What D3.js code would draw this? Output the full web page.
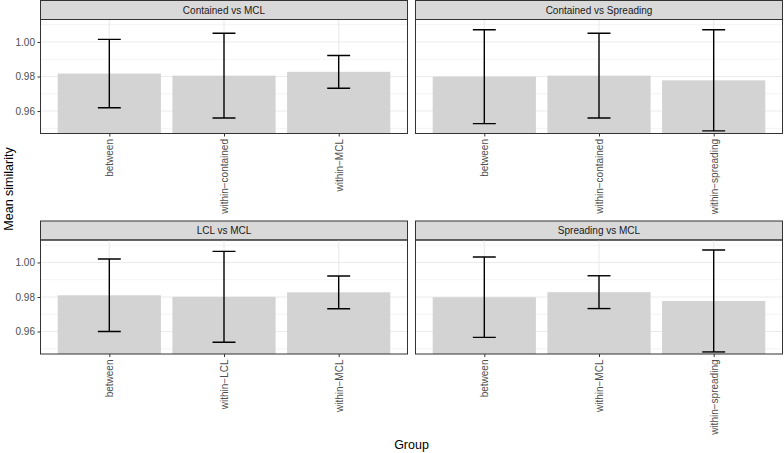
<!DOCTYPE html>
<html>
<head>
<meta charset="utf-8">
<script src="https://cdn.jsdelivr.net/npm/d3@7"></script>
<style>
  html, body { margin: 0; padding: 0; background: #fff; }
  svg { display: block; font-family: "Liberation Sans", Arial, Helvetica, sans-serif; }
</style>
</head>
<body>
<svg id="chart" width="784" height="453"></svg>
<script>
// ---- data ----
const panelTitles = ["Contained vs MCL", "Contained vs Spreading", "LCL vs MCL", "Spreading vs MCL"];
const groupsCvM = ["between", "within\u2212contained", "within\u2212MCL"];
const groupsCvS = ["between", "within\u2212contained", "within\u2212spreading"];
const groupsLvM = ["between", "within\u2212LCL", "within\u2212MCL"];
const groupsSvM = ["between", "within\u2212MCL", "within\u2212spreading"];
const meanCvM = [0.9817, 0.9805, 0.9827];
const meanCvS = [0.9799, 0.9805, 0.9778];
const meanLvM = [0.9810, 0.9801, 0.9827];
const meanSvM = [0.9799, 0.9828, 0.9777];
const sdCvM = [0.0198, 0.0245, 0.0095];
const sdCvS = [0.0272, 0.0245, 0.0293];
const sdLvM = [0.0210, 0.0263, 0.0095];
const sdSvM = [0.0233, 0.0095, 0.0295];
const yTicks = [0.96, 0.98, 1.00];
const yMinorTicks = [0.95, 0.97, 0.99, 1.01];
const yDomain = [0.947, 1.013];
const yTitle = "Mean similarity";
const xTitle = "Group";

const panelData = [
  {title: panelTitles[0], groups: groupsCvM, mean: meanCvM, sd: sdCvM},
  {title: panelTitles[1], groups: groupsCvS, mean: meanCvS, sd: sdCvS},
  {title: panelTitles[2], groups: groupsLvM, mean: meanLvM, sd: sdLvM},
  {title: panelTitles[3], groups: groupsSvM, mean: meanSvM, sd: sdSvM}
];

// ---- layout ----
const svg = d3.select("#chart");
const colX = [40.5, 415.5];
const panelW = 367;
const stripTop = [0.5, 221];
const stripH = 19;
const panelH = 114;

const axisText = "#4d4d4d";
const fontAxis = 10;

panelData.forEach((p, i) => {
  const col = i % 2, row = Math.floor(i / 2);
  const x0 = colX[col];
  const sTop = stripTop[row];
  const pTop = sTop + stripH;
  const pBot = pTop + panelH;

  // ggplot-like discrete scale: centers at 1..3 with 0.6 expansion, bar width 0.9
  const xc = d3.scalePoint().domain(p.groups).range([x0 + panelW * 0.6 / 3.2, x0 + panelW * 2.6 / 3.2]);
  const unit = panelW / 3.2;
  const y = d3.scaleLinear().domain(yDomain).range([pBot, pTop]);

  const g = svg.append("g");
  const clipId = "clip" + i;
  g.append("clipPath").attr("id", clipId).append("rect")
    .attr("x", x0).attr("y", pTop).attr("width", panelW).attr("height", panelH);

  // strip
  g.append("rect").attr("x", x0).attr("y", sTop).attr("width", panelW).attr("height", stripH)
    .attr("fill", "#d9d9d9").attr("stroke", "#333333").attr("stroke-width", 1);
  g.append("text").attr("x", x0 + panelW / 2).attr("y", sTop + stripH / 2).attr("dy", "0.35em")
    .attr("text-anchor", "middle").attr("font-size", fontAxis).attr("fill", "#1a1a1a").text(p.title);

  const inner = g.append("g").attr("clip-path", `url(#${clipId})`);
  // grid
  inner.selectAll(".minor").data(yMinorTicks).join("line")
    .attr("x1", x0).attr("x2", x0 + panelW).attr("y1", d => y(d)).attr("y2", d => y(d))
    .attr("stroke", "#ebebeb").attr("stroke-width", 0.6);
  inner.selectAll(".major").data(yTicks).join("line")
    .attr("x1", x0).attr("x2", x0 + panelW).attr("y1", d => y(d)).attr("y2", d => y(d))
    .attr("stroke", "#ebebeb").attr("stroke-width", 1.1);
  inner.selectAll(".vmajor").data(p.groups).join("line")
    .attr("x1", d => xc(d)).attr("x2", d => xc(d)).attr("y1", pTop).attr("y2", pBot)
    .attr("stroke", "#ebebeb").attr("stroke-width", 1.1);

  // bars
  inner.selectAll(".bar").data(p.groups).join("rect")
    .attr("x", d => xc(d) - unit * 0.45).attr("width", unit * 0.9)
    .attr("y", (d, k) => y(p.mean[k])).attr("height", (d, k) => y(yDomain[0]) - y(p.mean[k]) + 2)
    .attr("fill", "#d3d3d3");

  // error bars
  const eb = inner.selectAll(".eb").data(p.groups).join("g");
  const cw = unit * 0.1;
  eb.append("line").attr("x1", d => xc(d)).attr("x2", d => xc(d))
    .attr("y1", (d, k) => y(p.mean[k] + p.sd[k])).attr("y2", (d, k) => y(p.mean[k] - p.sd[k]))
    .attr("stroke", "#000").attr("stroke-width", 1.4);
  eb.append("line").attr("x1", d => xc(d) - cw).attr("x2", d => xc(d) + cw)
    .attr("y1", (d, k) => y(p.mean[k] + p.sd[k])).attr("y2", (d, k) => y(p.mean[k] + p.sd[k]))
    .attr("stroke", "#000").attr("stroke-width", 1.4);
  eb.append("line").attr("x1", d => xc(d) - cw).attr("x2", d => xc(d) + cw)
    .attr("y1", (d, k) => y(p.mean[k] - p.sd[k])).attr("y2", (d, k) => y(p.mean[k] - p.sd[k]))
    .attr("stroke", "#000").attr("stroke-width", 1.4);

  // panel border
  g.append("rect").attr("x", x0).attr("y", pTop).attr("width", panelW).attr("height", panelH)
    .attr("fill", "none").attr("stroke", "#333333").attr("stroke-width", 1);

  // y axis (left column only)
  if (col === 0) {
    const ya = g.append("g").attr("transform", `translate(${x0},0)`)
      .call(d3.axisLeft(y).tickValues(yTicks).tickFormat(d3.format(".2f")).tickSize(3).tickPadding(2.5));
    ya.select(".domain").remove();
    ya.selectAll("line").attr("stroke", "#333333");
    ya.selectAll("text").attr("fill", axisText).attr("font-size", fontAxis).attr("font-family", null);
  }
  // x axis
  const xa = g.append("g").attr("transform", `translate(0,${pBot})`)
    .call(d3.axisBottom(xc).tickSize(3).tickPadding(2.5));
  xa.select(".domain").remove();
  xa.selectAll("line").attr("stroke", "#333333");
  xa.selectAll("text").attr("fill", axisText).attr("font-size", fontAxis).attr("font-family", null)
    .attr("transform", "rotate(-90)")
    .attr("text-anchor", "end").attr("x", -5.5).attr("y", 0).attr("dy", "0.35em");
});

// axis titles
svg.append("text").attr("transform", `translate(13,189) rotate(-90)`)
  .attr("text-anchor", "middle").attr("font-size", 12.5).attr("fill", "#000").text(yTitle);
svg.append("text").attr("x", (colX[0] + colX[1] + panelW) / 2).attr("y", 449)
  .attr("text-anchor", "middle").attr("font-size", 12.5).attr("fill", "#000").text(xTitle);
</script>
</body>
</html>
